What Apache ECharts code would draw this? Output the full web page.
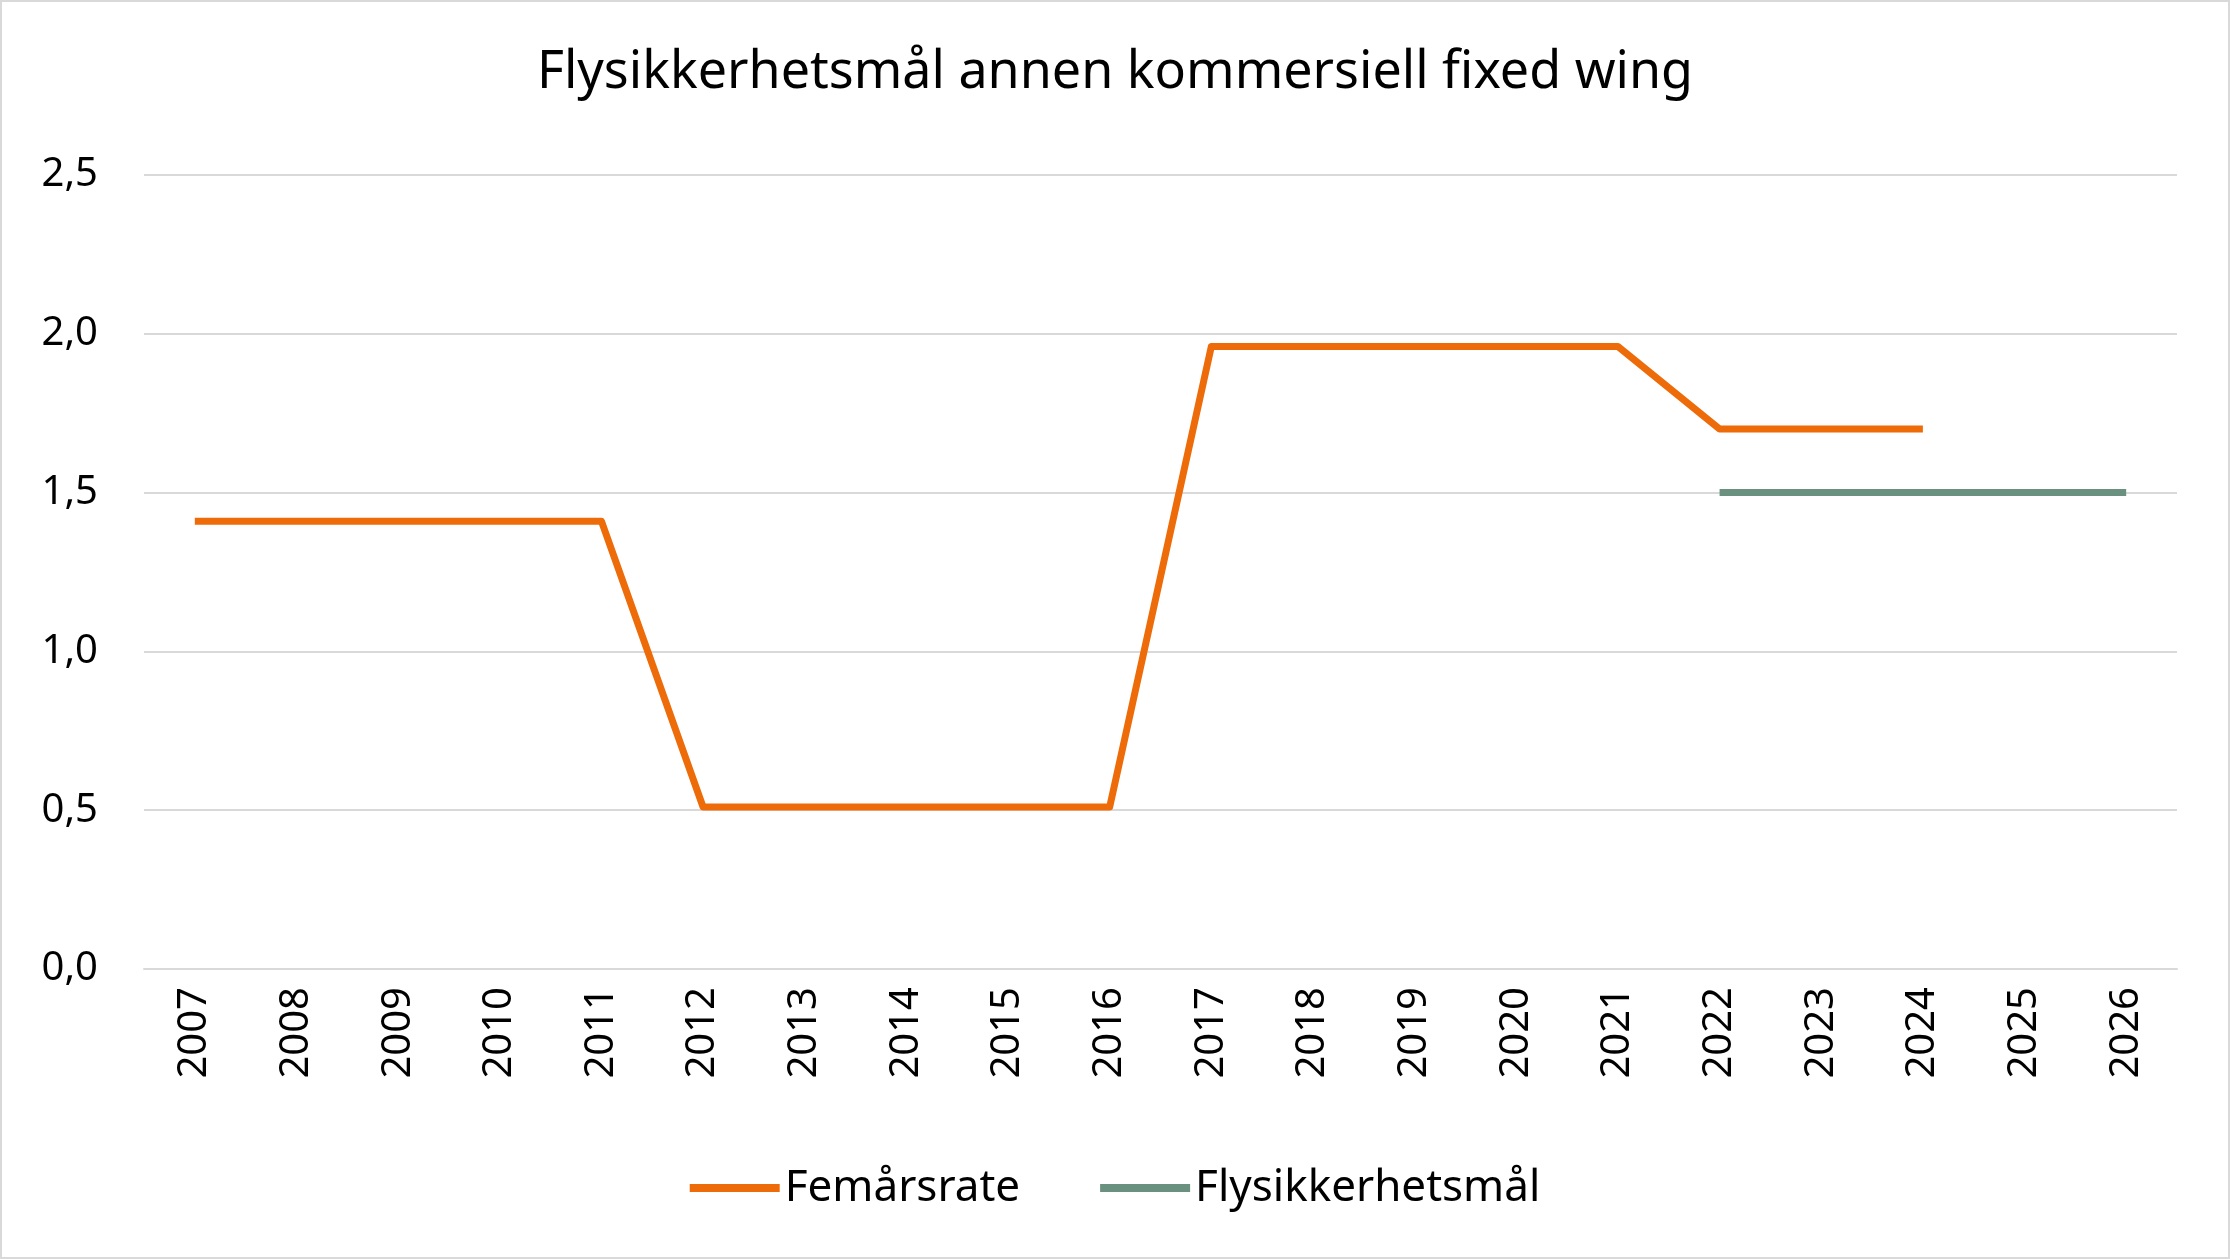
<!DOCTYPE html>
<html><head><meta charset="utf-8">
<script src="https://cdn.jsdelivr.net/npm/echarts@6/dist/echarts.min.js"></script>
<style>html,body{margin:0;padding:0;background:#fff}#c{width:2230px;height:1259px;box-sizing:border-box;border:2px solid #d9d9d9}</style>
</head><body><div id="c"></div>
<script>
const years = ['2007','2008','2009','2010','2011','2012','2013','2014','2015','2016','2017','2018','2019','2020','2021','2022','2023','2024','2025','2026'];
const femarsrate = [1.41,1.41,1.41,1.41,1.41,0.51,0.51,0.51,0.51,0.51,1.96,1.96,1.96,1.96,1.96,1.70,1.70,1.70,null,null];
const maal = [null,null,null,null,null,null,null,null,null,null,null,null,null,null,null,1.5,1.5,1.5,1.5,1.5];
const yTicks = {min:0,max:2.5,interval:0.5};
const chart = echarts.init(document.getElementById('c'));
const font = 'Noto Sans, Liberation Sans, sans-serif';
chart.setOption({
  animation:false,
  title:{text:'Flysikkerhetsmål annen kommersiell fixed wing',left:'center',top:40,textStyle:{fontFamily:font,fontSize:52,fontWeight:'normal',color:'#000'}},
  grid:{left:142,right:51,top:173,bottom:288,containLabel:false},
  legend:{bottom:42,itemWidth:90,itemHeight:8,itemGap:80,textStyle:{fontFamily:font,fontSize:44,color:'#000'},
    data:[{name:'Femårsrate',icon:'rect'},{name:'Flysikkerhetsmål',icon:'rect'}]},
  xAxis:{type:'category',data:years,boundaryGap:true,axisTick:{show:false},axisLine:{lineStyle:{color:'#d9d9d9',width:2}},
    axisLabel:{rotate:90,fontFamily:font,fontSize:40,color:'#000',margin:18}},
  yAxis:{type:'value',min:yTicks.min,max:yTicks.max,interval:yTicks.interval,axisLine:{show:false},axisTick:{show:false},
    splitLine:{lineStyle:{color:'#d9d9d9',width:2}},
    axisLabel:{fontFamily:font,fontSize:40,color:'#000',margin:46,formatter:v=>v.toFixed(1).replace('.',',')}},
  series:[
    {name:'Femårsrate',type:'line',data:femarsrate,symbol:'none',lineStyle:{color:'#ED6C09',width:7,join:'round'},itemStyle:{color:'#ED6C09'}},
    {name:'Flysikkerhetsmål',type:'line',data:maal,symbol:'none',lineStyle:{color:'#6A9080',width:7},itemStyle:{color:'#6A9080'}}
  ]
});
</script></body></html>
